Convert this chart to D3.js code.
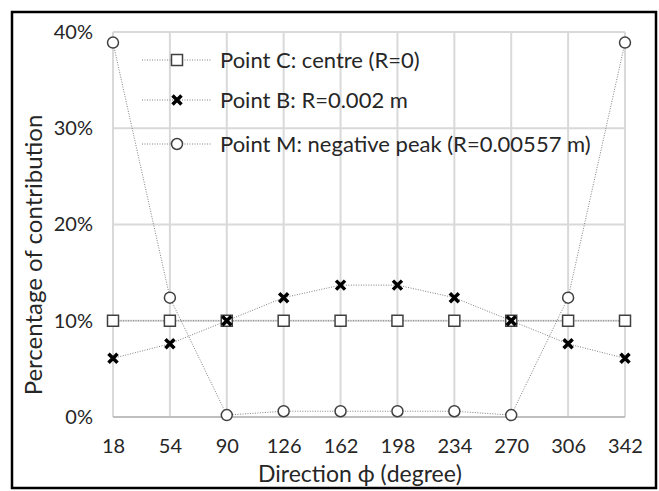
<!DOCTYPE html>
<html>
<head>
<meta charset="utf-8">
<script src="https://cdn.jsdelivr.net/npm/d3@7"></script>
<style>
  body { margin: 0; background: #fff; }
  svg text { font-family: Lato, "Open Sans", sans-serif; fill: #262626; }
</style>
</head>
<body>
<div id="chart"></div>
<script>
// directions (degree)
var directions = ["18", "54", "90", "126", "162", "198", "234", "270", "306", "342"];
var yTicks = [0, 0.1, 0.2, 0.3, 0.4];

var pointC = [0.10, 0.10, 0.10, 0.10, 0.10, 0.10, 0.10, 0.10, 0.10, 0.10];
var pointB = [0.061, 0.076, 0.10, 0.124, 0.137, 0.137, 0.124, 0.10, 0.076, 0.061];
var pointM = [0.389, 0.124, 0.002, 0.006, 0.006, 0.006, 0.006, 0.002, 0.124, 0.389];

var seriesNames = ["Point C: centre (R=0)", "Point B: R=0.002 m", "Point M: negative peak (R=0.00557 m)"];

var width = 659, height = 491;
var margin = { top: 32, right: 34, bottom: 74, left: 113 };

var svg = d3.select("#chart").append("svg")
  .attr("width", width)
  .attr("height", height);

svg.append("rect")
  .attr("x", 12).attr("y", 12)
  .attr("width", 644).attr("height", 476)
  .attr("fill", "#fff")
  .attr("stroke", "#000")
  .attr("stroke-width", 2.5);

var xScale = d3.scalePoint()
  .domain(directions)
  .range([margin.left, width - margin.right]);

var yScale = d3.scaleLinear()
  .domain([0, 0.4])
  .range([height - margin.bottom, margin.top]);

// gridlines
svg.append("g")
  .selectAll("line.hgrid")
  .data(yTicks.slice(1))
  .enter().append("line")
  .attr("x1", margin.left).attr("x2", width - margin.right)
  .attr("y1", d => yScale(d)).attr("y2", d => yScale(d))
  .attr("stroke", "#d9d9d9").attr("stroke-width", 2);

svg.append("g")
  .selectAll("line.vgrid")
  .data(directions)
  .enter().append("line")
  .attr("x1", d => xScale(d)).attr("x2", d => xScale(d))
  .attr("y1", margin.top).attr("y2", yScale(0))
  .attr("stroke", "#d9d9d9").attr("stroke-width", 2);

svg.append("line")
  .attr("x1", margin.left).attr("x2", width - margin.right)
  .attr("y1", yScale(0)).attr("y2", yScale(0))
  .attr("stroke", "#bfbfbf").attr("stroke-width", 2);

// axes (labels only)
var xAxis = svg.append("g")
  .attr("transform", "translate(0," + yScale(0) + ")")
  .call(d3.axisBottom(xScale).tickSize(0).tickPadding(22));
xAxis.select(".domain").remove();
xAxis.selectAll("text").style("font-size", "20px").attr("fill", "#262626");

var yAxis = svg.append("g")
  .attr("transform", "translate(" + (margin.left - 20) + ",0)")
  .call(d3.axisLeft(yScale).tickValues(yTicks).tickFormat(d3.format(".0%")).tickSize(0).tickPadding(0));
yAxis.select(".domain").remove();
yAxis.selectAll("text").style("font-size", "20px").attr("fill", "#262626");

svg.append("text")
  .attr("x", 360)
  .attr("y", 482)
  .attr("text-anchor", "middle")
  .style("font-size", "23px")
  .text("Direction \u03d5 (degree)");

svg.append("text")
  .attr("transform", "translate(42,255)rotate(-90)")
  .attr("text-anchor", "middle")
  .style("font-size", "24px")
  .text("Percentage of contribution");

var line = d3.line()
  .x((d, i) => xScale(directions[i]))
  .y(d => yScale(d));

var allSeries = [pointC, pointB, pointM];
allSeries.forEach(function (vals) {
  svg.append("path")
    .datum(vals)
    .attr("d", line)
    .attr("fill", "none")
    .attr("stroke", "#7f7f7f")
    .attr("stroke-width", 1)
    .attr("stroke-dasharray", "1,1.5");
});

function drawMarker(g, type, x, y) {
  if (type === 0) {
    g.append("rect")
      .attr("x", x - 5.5).attr("y", y - 5.5)
      .attr("width", 11).attr("height", 11)
      .attr("fill", "#fff").attr("stroke", "#404040").attr("stroke-width", 1.5);
  } else if (type === 1) {
    var s = 4.5;
    g.append("path")
      .attr("d", "M" + (x - s) + "," + (y - s) + "L" + (x + s) + "," + (y + s) +
        "M" + (x - s) + "," + (y + s) + "L" + (x + s) + "," + (y - s))
      .attr("stroke", "#000").attr("stroke-width", 3.5);
  } else {
    g.append("circle")
      .attr("cx", x).attr("cy", y).attr("r", 5.5)
      .attr("fill", "#fff").attr("stroke", "#404040").attr("stroke-width", 1.5);
  }
}

var marks = svg.append("g");
allSeries.forEach(function (vals, k) {
  vals.forEach(function (v, i) {
    drawMarker(marks, k, xScale(directions[i]), yScale(v));
  });
});

// legend
var legendY = [60, 100, 144];
seriesNames.forEach(function (name, k) {
  var ly = legendY[k];
  svg.append("line")
    .attr("x1", 142).attr("x2", 212)
    .attr("y1", ly).attr("y2", ly)
    .attr("stroke", "#7f7f7f").attr("stroke-width", 1)
    .attr("stroke-dasharray", "1,1.5");
  drawMarker(svg, k, 177, ly);
  svg.append("text")
    .attr("x", 220).attr("y", ly + 8)
    .style("font-size", "22px")
    .text(name);
});
</script>
</body>
</html>
